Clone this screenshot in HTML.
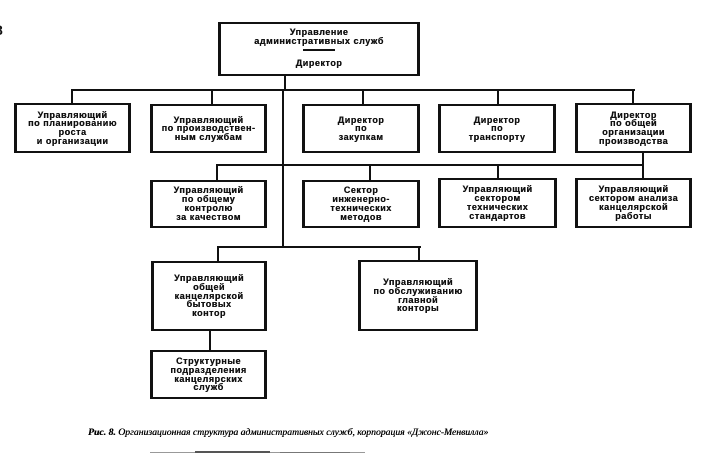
<!DOCTYPE html>
<html><head><meta charset="utf-8"><style>
html,body{margin:0;padding:0;background:#fff;}
body{width:712px;height:462px;position:relative;overflow:hidden;font-family:"Liberation Sans","DejaVu Sans",sans-serif;}
.b{position:absolute;box-sizing:border-box;border:2px solid #111;border-left-width:3px;border-right-width:3px;display:flex;align-items:center;justify-content:center;text-align:center;font-weight:bold;font-size:9px;line-height:8.6px;letter-spacing:0.55px;color:#111;background:#fff;text-shadow:0.3px 0 0 #111;}
.h{position:absolute;height:2px;background:#111;}
.v{position:absolute;width:2px;background:#111;}
.t{position:absolute;font-weight:bold;font-size:9px;letter-spacing:0.55px;color:#111;text-align:center;white-space:nowrap;text-shadow:0.3px 0 0 #111;}
.cap{position:absolute;left:88px;top:427px;font-family:"Liberation Serif",serif;font-style:italic;font-size:9.7px;letter-spacing:0px;color:#000;white-space:nowrap;text-shadow:0.3px 0 0 #000;}
</style></head><body>

<div style="position:absolute;left:-5px;top:22px;font-weight:bold;font-size:14px;color:#111;">8</div>

<!-- top box -->
<div class="b" style="left:218px;top:22px;width:202px;height:54px;"></div>
<div class="t" style="left:218px;width:202px;top:28px;line-height:8.5px;">Управление<br>административных служб</div>
<div class="h" style="left:303px;top:49px;width:32px;height:1.5px;"></div>
<div class="t" style="left:218px;width:202px;top:58px;">Директор</div>

<!-- connectors level 1 -->
<div class="v" style="left:284px;top:76px;height:15px;"></div>
<div class="h" style="left:71px;top:89px;width:564px;"></div>
<div class="v" style="left:71px;top:89px;height:15px;"></div>
<div class="v" style="left:211px;top:89px;height:15px;"></div>
<div class="v" style="left:362px;top:89px;height:15px;"></div>
<div class="v" style="left:497px;top:89px;height:15px;"></div>
<div class="v" style="left:632px;top:89px;height:15px;"></div>

<!-- trunk -->
<div class="v" style="left:282px;top:89px;height:159px;"></div>

<!-- row 1 -->
<div class="b" style="left:14px;top:103px;width:117px;height:50px;">Управляющий<br>по планированию<br>роста<br>и организации</div>
<div class="b" style="left:150px;top:104px;width:117px;height:49px;">Управляющий<br>по производствен-<br>ным службам</div>
<div class="b" style="left:302px;top:104px;width:118px;height:49px;">Директор<br>по<br>закупкам</div>
<div class="b" style="left:438px;top:104px;width:118px;height:49px;">Директор<br>по<br>транспорту</div>
<div class="b" style="left:575px;top:103px;width:117px;height:50px;">Директор<br>по общей<br>организации<br>производства</div>

<!-- connectors level 2 -->
<div class="v" style="left:642px;top:152px;height:27px;"></div>
<div class="h" style="left:216px;top:164px;width:428px;"></div>
<div class="v" style="left:216px;top:164px;height:17px;"></div>
<div class="v" style="left:369px;top:164px;height:17px;"></div>
<div class="v" style="left:497px;top:164px;height:15px;"></div>

<!-- row 2 -->
<div class="b" style="left:150px;top:180px;width:117px;height:48px;line-height:8.8px;">Управляющий<br>по общему<br>контролю<br>за качеством</div>
<div class="b" style="left:302px;top:180px;width:118px;height:48px;line-height:8.8px;">Сектор<br>инженерно-<br>технических<br>методов</div>
<div class="b" style="left:438px;top:178px;width:119px;height:50px;line-height:8.8px;">Управляющий<br>сектором<br>технических<br>стандартов</div>
<div class="b" style="left:575px;top:178px;width:117px;height:50px;line-height:8.8px;">Управляющий<br>сектором анализа<br>канцелярской<br>работы</div>

<!-- connectors level 3 -->
<div class="h" style="left:217px;top:246px;width:204px;"></div>
<div class="v" style="left:217px;top:246px;height:16px;"></div>
<div class="v" style="left:418px;top:246px;height:15px;"></div>

<!-- row 3 -->
<div class="b" style="left:151px;top:261px;width:116px;height:70px;line-height:8.7px;">Управляющий<br>общей<br>канцелярской<br>бытовых<br>контор</div>
<div class="b" style="left:358px;top:260px;width:120px;height:71px;line-height:8.8px;">Управляющий<br>по обслуживанию<br>главной<br>конторы</div>

<div class="v" style="left:209px;top:330px;height:21px;"></div>
<div class="b" style="left:150px;top:350px;width:117px;height:49px;line-height:8.8px;">Структурные<br>подразделения<br>канцелярских<br>служб</div>

<div class="cap"><b>Рис. 8.</b> Организационная структура административных служб, корпорация «Джонс-Менвилла»</div>

<!-- bottom smudge -->
<div style="position:absolute;left:150px;top:452px;width:215px;height:1px;background:#999;"></div>
<div style="position:absolute;left:195px;top:451px;width:75px;height:2px;background:#555;"></div>
<div style="position:absolute;left:280px;top:452px;width:70px;height:1px;background:#777;"></div>
</body></html>
